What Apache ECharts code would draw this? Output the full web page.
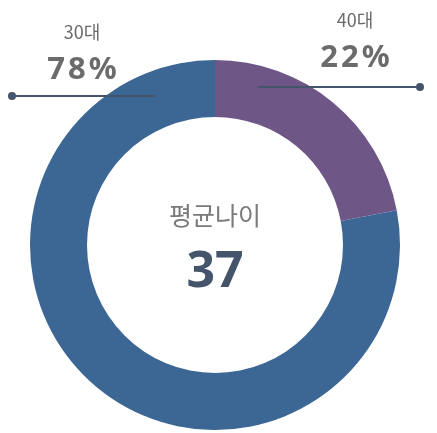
<!DOCTYPE html>
<html><head><meta charset="utf-8">
<script src="https://cdn.jsdelivr.net/npm/echarts@6/dist/echarts.min.js"></script>
<style>html,body{margin:0;padding:0;background:#fff}#c{width:437px;height:433px}</style>
</head><body><div id="c"></div>
<script>
const categories = ['40대', '30대'];
const values = [22, 78];
const centerTitle = '평균나이';
const avgAge = 37;
const colors = ['#6e5786', '#3c6795'];

const cx = 215, cy = 245;
const chart = echarts.init(document.getElementById('c'), null, {renderer: 'canvas'});
const labelPos = [
  {x: 355, y: 40},
  {x: 82, y: 52}
];
chart.setOption({
  animation: false,
  color: colors,
  series: [{
    type: 'pie',
    center: [cx, cy],
    radius: [128, 185],
    startAngle: 90,
    clockwise: true,
    silent: true,
    data: categories.map((c, i) => ({name: c, value: values[i]})),
    label: {
      show: true,
      overflow: 'none',
      width: 200,
      formatter: function (p) {
        const pct = (Math.round(p.percent) + '%').split('').join('\u200A');
        return '{a|' + p.name + '}\n{p|' + pct + '}';
      },
      rich: {
        a: {fontFamily: 'Noto Sans CJK KR', fontSize: 18, color: '#6b6b6b', lineHeight: 36, align: 'center', width: 120},
        p: {fontFamily: 'Noto Sans', fontWeight: 'bold', fontSize: 31, color: '#6b6b6b', lineHeight: 40, align: 'center', width: 120}
      }
    },
    labelLine: {show: false},
    labelLayout: function (params) {
      const p = labelPos[params.dataIndex];
      return {x: p.x, y: p.y, align: 'center', verticalAlign: 'middle', hideOverlap: false};
    }
  }],
  graphic: [
    {type: 'line', z: 100, shape: {x1: 258, y1: 87, x2: 420, y2: 87}, style: {stroke: '#44546a', lineWidth: 2}},
    {type: 'line', z: 100, shape: {x1: 155, y1: 96, x2: 12, y2: 96}, style: {stroke: '#44546a', lineWidth: 2}},
    {type: 'circle', z: 100, shape: {cx: 420, cy: 87, r: 4}, style: {fill: '#44546a'}},
    {type: 'circle', z: 100, shape: {cx: 12, cy: 96, r: 4}, style: {fill: '#44546a'}},
    {type: 'text', x: cx, y: 215, style: {text: centerTitle, fontFamily: 'Noto Sans CJK KR', fontSize: 25, fill: '#7a7a7a', align: 'center', verticalAlign: 'middle'}},
    {type: 'text', x: cx, y: 273, style: {text: String(avgAge), fontFamily: 'Noto Sans', fontWeight: 'bold', fontSize: 50, fill: '#44546a', align: 'center', verticalAlign: 'middle'}}
  ]
});
</script></body></html>
